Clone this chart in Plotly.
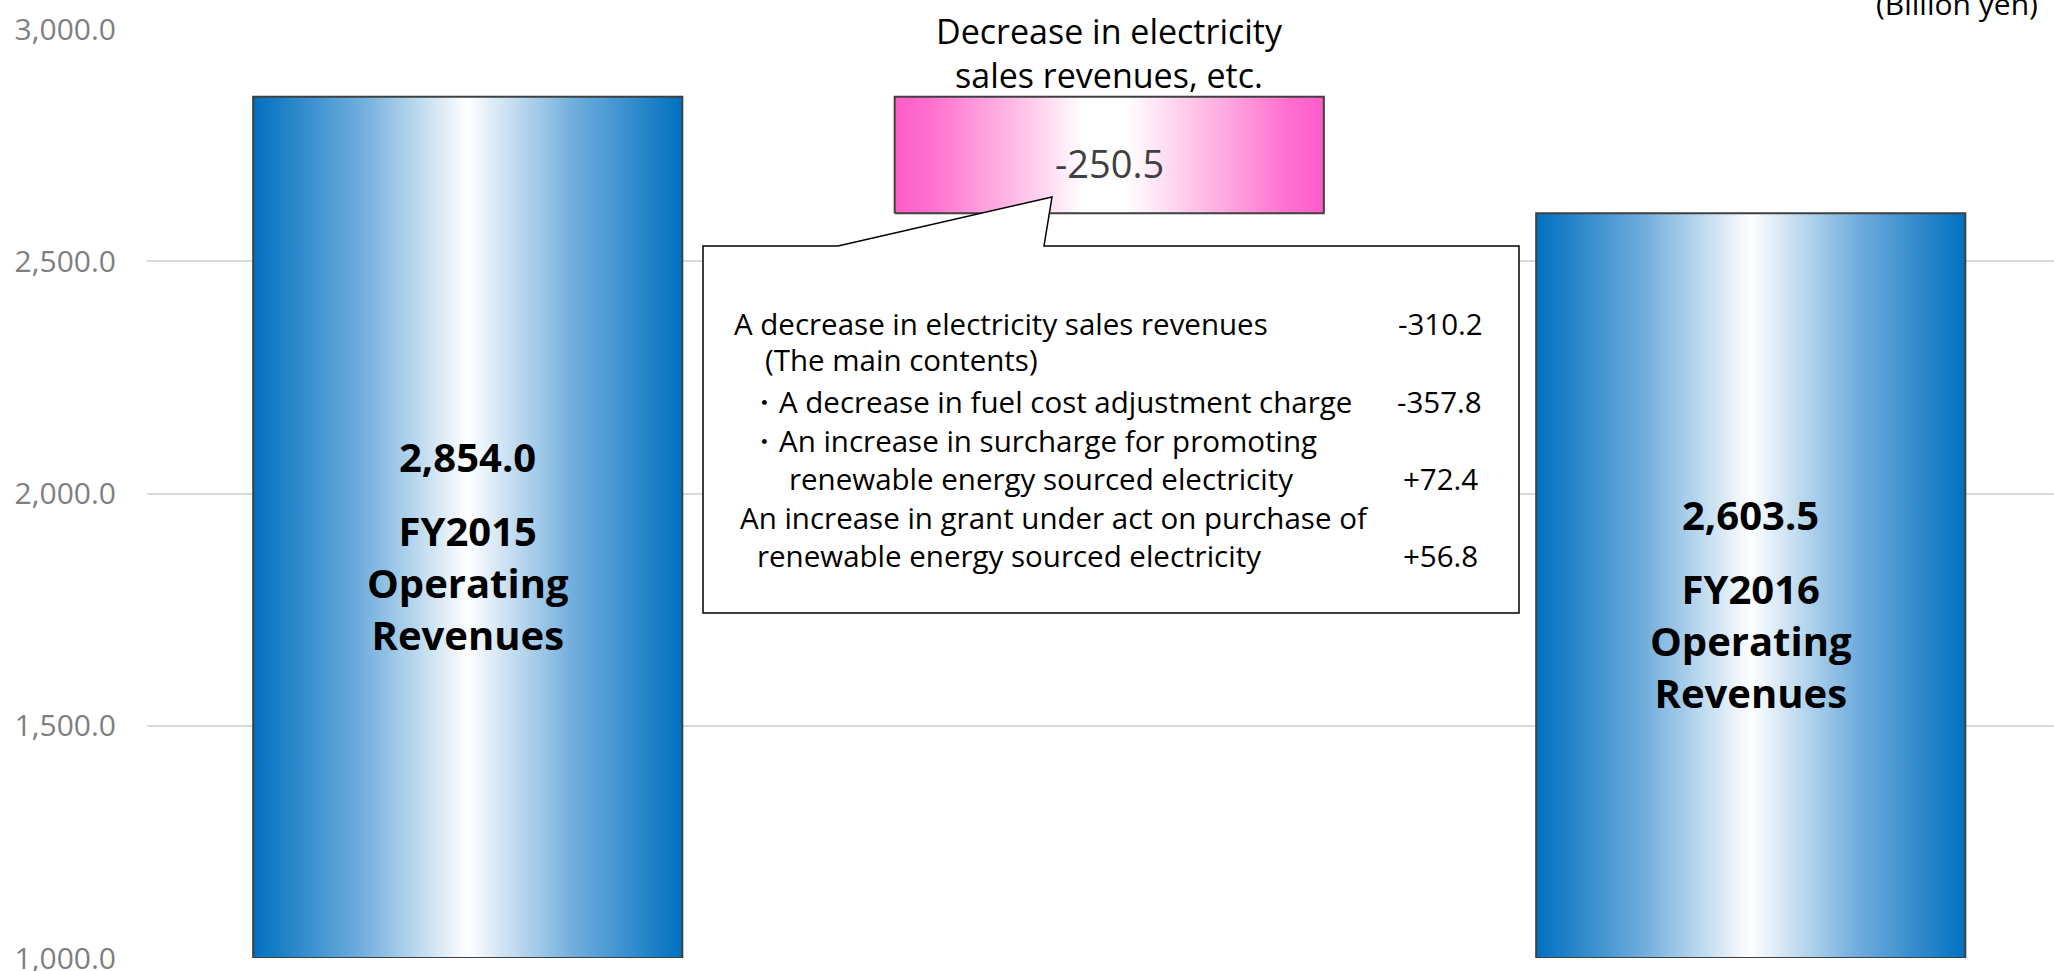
import plotly.graph_objects as go

# ---------------- data ----------------
categories = ["FY2015<br>Operating<br>Revenues",
              "Decrease in electricity<br>sales revenues, etc.",
              "FY2016<br>Operating<br>Revenues"]
values = [2854.0, -250.5, 2603.5]
measures = ["total", "relative", "total"]
value_labels = ["2,854.0", "-250.5", "2,603.5"]

y_ticks = [1000, 1500, 2000, 2500, 3000]
unit_label = "(Billion yen)"

detail_labels = ["A decrease in electricity sales revenues",
                 "(The main contents)",
                 "・A decrease in fuel cost adjustment charge",
                 "・An increase in surcharge for promoting",
                 "renewable energy sourced electricity",
                 "An increase in grant under act on purchase of",
                 "renewable energy sourced electricity"]
detail_values = [-310.2, None, -357.8, None, 72.4, None, 56.8]

# ---------------- layout constants ----------------
W, H = 2054, 971
ML, MR, MT, MB = 147, 0, 29, 13
PW, PH = W - ML - MR, H - MT - MB
Y_MIN, Y_MAX = 1000, 3000
BAR_W = 0.669
FONT = "Open Sans"


def px(x):
    return (x - ML) / PW


def py(y):
    return (H - MB - y) / PH


blue_scale = [[0, "#0070C0"], [0.25, "#6FADDC"], [0.5, "#FFFFFF"],
              [0.75, "#6FADDC"], [1, "#0070C0"]]
pink_scale = [[0, "#FF5CC8"], [0.08, "#FF6ECF"], [0.3, "#FFC3E8"],
              [0.44, "#FFFFFF"], [0.54, "#FFFFFF"], [0.7, "#FFC3E8"],
              [0.92, "#FF6ECF"], [1, "#FF5CC8"]]

fig = go.Figure()

# compute waterfall extents
running = 0.0
spans = []
for v, m in zip(values, measures):
    if m == "total":
        lo, hi = 0.0, v
        running = v
    else:
        lo, hi = sorted([running, running + v])
        running = running + v
    spans.append((lo, hi))

for i, ((lo, hi), m) in enumerate(zip(spans, measures)):
    lo_d = max(lo, Y_MIN)
    x0, x1 = i - BAR_W / 2, i + BAR_W / 2
    fig.add_trace(go.Scatter(
        x=[x0, x1, x1, x0, x0],
        y=[lo_d, lo_d, hi, hi, lo_d],
        mode="lines",
        fill="toself",
        fillgradient=dict(type="horizontal", start=x0, stop=x1,
                          colorscale=blue_scale if m == "total" else pink_scale),
        line=dict(color="#404040", width=2),
        hoverinfo="skip",
        showlegend=False,
    ))

annotations = []
# bar labels
for i, ((lo, hi), m) in enumerate(zip(spans, measures)):
    if m == "total":
        mid = (max(lo, Y_MIN) + hi) / 2
        annotations.append(dict(x=i, y=mid, xref="x", yref="y", yshift=71,
                                text="<b>" + value_labels[i] + "</b>", showarrow=False,
                                font=dict(family=FONT, size=40, color="#000000")))
        annotations.append(dict(x=i, y=mid, xref="x", yref="y", yshift=-55,
                                text="<b>" + categories[i] + "</b>", showarrow=False,
                                font=dict(family=FONT, size=40, color="#000000")))
    else:
        mid = (lo + hi) / 2
        annotations.append(dict(x=i, y=mid, xref="x", yref="y", yshift=-8,
                                text=value_labels[i], showarrow=False,
                                font=dict(family=FONT, size=38, color="#404040")))
        annotations.append(dict(x=i, y=hi, xref="x", yref="y", yshift=44,
                                text=categories[i], showarrow=False,
                                font=dict(family=FONT, size=34, color="#000000")))

# unit label
annotations.append(dict(x=px(2040), y=py(3), xref="paper", yref="paper",
                        xanchor="right", yanchor="middle", text=unit_label,
                        showarrow=False,
                        font=dict(family=FONT, size=30, color="#000000")))

# callout detail text
line_x = [732, 763, 747, 747, 787, 738, 755]
line_y = [323, 359, 401, 440, 478, 517, 555]
val_x = [1485, None, 1484, None, 1480, None, 1480]
for t, xl, yc, v, xr in zip(detail_labels, line_x, line_y, detail_values, val_x):
    annotations.append(dict(x=px(xl), y=py(yc), xref="paper", yref="paper",
                            xanchor="left", yanchor="middle", text=t, showarrow=False,
                            font=dict(family=FONT, size=29.5, color="#000000")))
    if v is not None:
        annotations.append(dict(x=px(xr), y=py(yc), xref="paper", yref="paper",
                                xanchor="right", yanchor="middle",
                                text=f"{v:+.1f}", showarrow=False,
                                font=dict(family=FONT, size=29.5, color="#000000")))

# callout shape
cl, cr, ct, cb = 703, 1519, 246, 613
tail = [(838, 246), (1052, 197), (1044, 246)]
pts = [(cl, ct), tail[0], tail[1], tail[2], (cr, ct), (cr, cb), (cl, cb)]
path = "M " + " L ".join(f"{px(a):.5f},{py(b):.5f}" for a, b in pts) + " Z"
shapes = [dict(type="path", path=path, xref="paper", yref="paper",
               fillcolor="#FFFFFF", line=dict(color="#000000", width=1.5),
               layer="above")]

fig.update_layout(
    width=W, height=H,
    margin=dict(l=ML, r=MR, t=MT, b=MB, pad=0, autoexpand=False),
    paper_bgcolor="#FFFFFF", plot_bgcolor="#FFFFFF",
    showlegend=False,
    xaxis=dict(range=[-0.5, -0.5 + PW / 641.5], showticklabels=False,
               showgrid=False, zeroline=False, showline=False, fixedrange=True,
               automargin=False),
    yaxis=dict(range=[Y_MIN, Y_MAX], tickvals=y_ticks, tickformat=",.1f",
               showgrid=True, gridcolor="#D9D9D9", gridwidth=1.5,
               zeroline=False, showline=False, ticks="", automargin=False,
               ticklabelstandoff=30, ticklabeloverflow="allow",
               tickfont=dict(family=FONT, size=30, color="#7F7F7F")),
    annotations=annotations,
    shapes=shapes,
)

fig.write_html("out.html")
